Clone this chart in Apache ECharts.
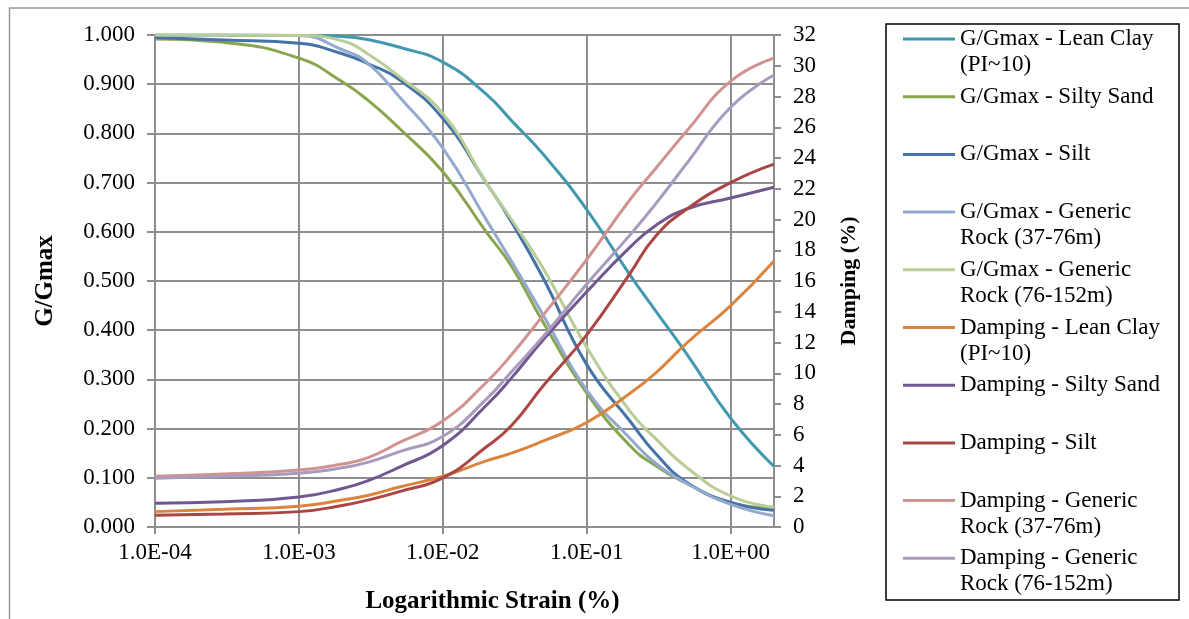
<!DOCTYPE html>
<html>
<head>
<meta charset="utf-8">
<script src="https://cdn.jsdelivr.net/npm/echarts@6/dist/echarts.min.js"></script>
<style>
  html, body { margin: 0; padding: 0; background: #fff; }
  #chart { width: 1189px; height: 619px; }
</style>
</head>
<body>
<div id="chart"></div>
<script>
// Shear strain (%) at which every curve is tabulated
const strain = [1e-4, 3e-4, 1e-3, 2e-3, 3e-3, 5e-3, 1e-2, 2e-2, 3e-2, 5e-2, 0.1, 0.2, 0.3, 0.5, 1, 2];

// Modulus reduction, G/Gmax
const gLeanClay   = [1.000, 1.000, 0.999, 0.997, 0.991, 0.975, 0.945, 0.880, 0.826, 0.757, 0.645, 0.512, 0.440, 0.350, 0.221, 0.123];
const gSiltySand  = [0.992, 0.985, 0.953, 0.905, 0.868, 0.810, 0.722, 0.600, 0.530, 0.415, 0.272, 0.165, 0.125, 0.088, 0.050, 0.037];
const gSilt       = [0.995, 0.990, 0.983, 0.962, 0.942, 0.909, 0.830, 0.700, 0.620, 0.505, 0.330, 0.215, 0.150, 0.090, 0.050, 0.034];
const gRock37     = [1.000, 1.000, 0.999, 0.970, 0.943, 0.874, 0.770, 0.625, 0.540, 0.430, 0.278, 0.180, 0.130, 0.088, 0.046, 0.023];
const gRock76     = [1.000, 1.000, 0.999, 0.988, 0.962, 0.915, 0.840, 0.700, 0.625, 0.525, 0.365, 0.235, 0.180, 0.120, 0.063, 0.040];

// Damping ratio (%)
const dLeanClay   = [1.00, 1.15, 1.35, 1.75, 2.05, 2.60, 3.30, 4.30, 4.80, 5.60, 6.80, 8.70, 10.0, 12.0, 14.4, 17.3];
const dSiltySand  = [1.55, 1.65, 1.95, 2.50, 3.00, 3.90, 5.30, 7.90, 9.70, 12.2, 15.3, 18.2, 19.6, 20.7, 21.4, 22.1];
const dSilt       = [0.76, 0.85, 1.00, 1.40, 1.75, 2.30, 3.20, 5.20, 6.60, 9.20, 12.5, 16.5, 18.9, 20.7, 22.4, 23.6];
const dRock37     = [3.30, 3.45, 3.70, 4.10, 4.50, 5.50, 6.90, 9.40, 11.2, 13.8, 17.4, 21.3, 23.3, 25.8, 29.0, 30.5];
const dRock76     = [3.17, 3.30, 3.50, 3.85, 4.20, 4.90, 5.90, 8.30, 10.1, 12.4, 15.8, 19.0, 21.0, 23.7, 27.3, 29.4];

const seriesNames = [
  'G/Gmax - Lean Clay\n(PI~10)',
  'G/Gmax - Silty Sand',
  'G/Gmax - Silt',
  'G/Gmax - Generic\nRock (37-76m)',
  'G/Gmax - Generic\nRock (76-152m)',
  'Damping - Lean Clay\n(PI~10)',
  'Damping - Silty Sand',
  'Damping - Silt',
  'Damping - Generic\nRock (37-76m)',
  'Damping - Generic\nRock (76-152m)'
];
const seriesValues = [gLeanClay, gSiltySand, gSilt, gRock37, gRock76,
                      dLeanClay, dSiltySand, dSilt, dRock37, dRock76];
const seriesAxis = [0, 0, 0, 0, 0, 1, 1, 1, 1, 1];
const seriesColors = ['#4198AF', '#89A54E', '#4572A7', '#93A9CF', '#B9CD96',
                      '#DB843D', '#71588F', '#AA4643', '#D19392', '#A99BBD'];

const FONT = '"Liberation Serif", "Times New Roman", serif';
const GRID = '#8E8E8E';

function sciLabel(v) {
  const e = Math.round(Math.log10(v));
  if (Math.abs(Math.pow(10, e) - v) / v > 1e-6) return '';
  const sign = e < 0 ? '-' : '+';
  const mag = String(Math.abs(e)).padStart(2, '0');
  return '1.0E' + sign + mag;
}

const series = seriesNames.map((name, i) => ({
  name: name,
  type: 'line',
  yAxisIndex: seriesAxis[i],
  data: strain.map((s, k) => [s, seriesValues[i][k]]),
  smooth: 0.5,
  showSymbol: false,
  symbol: 'none',
  lineStyle: { width: 3, color: seriesColors[i] },
  itemStyle: { color: seriesColors[i] },
  animation: false
}));

// Legend box drawn as graphics: line sample + wrapped label per series
const legendGraphics = [{
  type: 'rect',
  shape: { x: 886, y: 24, width: 293, height: 576 },
  style: { fill: '#fff', stroke: '#000', lineWidth: 1.5 },
  z: 10
}];
seriesNames.forEach((name, i) => {
  const y = 39 + i * 57.7;
  legendGraphics.push({
    type: 'line',
    shape: { x1: 903, y1: y, x2: 955, y2: y },
    style: { stroke: seriesColors[i], lineWidth: 3 },
    z: 11
  });
  legendGraphics.push({
    type: 'text',
    x: 960, y: y - 13,
    style: {
      text: name, fill: '#000', font: '23px ' + FONT,
      lineHeight: 26, verticalAlign: 'top', align: 'left'
    },
    z: 11
  });
});

const titleStyle = { fontFamily: FONT, fontSize: 25, fontWeight: 'bold', color: '#000' };

const chart = echarts.init(document.getElementById('chart'), null, { renderer: 'canvas' });
chart.setOption({
  animation: false,
  backgroundColor: '#fff',
  textStyle: { fontFamily: FONT },
  grid: { left: 155, right: 415, top: 35, bottom: 90, containLabel: false },
  xAxis: {
    type: 'log', logBase: 10, min: 1e-4, max: 2,
    name: 'Logarithmic Strain (%)', nameLocation: 'middle', nameGap: 62,
    nameTextStyle: Object.assign({}, titleStyle, { padding: [0, 0, 0, 56] }),
    axisLine: { show: true, lineStyle: { color: GRID, width: 2 } },
    axisTick: { show: true, length: 7, lineStyle: { color: GRID, width: 2 } },
    axisLabel: { formatter: sciLabel, fontFamily: FONT, fontSize: 23, color: '#000', margin: 14, showMaxLabel: false },
    splitLine: { show: true, lineStyle: { color: GRID, width: 2 } },
    minorTick: { show: false }, minorSplitLine: { show: false }
  },
  yAxis: [{
    type: 'value', min: 0, max: 1, interval: 0.1, position: 'left',
    name: 'G/Gmax', nameLocation: 'middle', nameGap: 97, nameRotate: 90,
    nameTextStyle: titleStyle,
    axisLine: { show: true, lineStyle: { color: GRID, width: 2 } },
    axisTick: { show: true, length: 8, lineStyle: { color: GRID, width: 2 } },
    axisLabel: { formatter: v => v.toFixed(3), fontFamily: FONT, fontSize: 23, color: '#000', margin: 20 },
    splitLine: { show: true, lineStyle: { color: GRID, width: 2 } }
  }, {
    type: 'value', min: 0, max: 32, interval: 2, position: 'right',
    name: 'Damping (%)', nameLocation: 'middle', nameGap: 64, nameRotate: 90,
    nameTextStyle: Object.assign({}, titleStyle, { fontSize: 22 }),
    axisLine: { show: true, lineStyle: { color: GRID, width: 2 } },
    axisTick: { show: true, length: 7, lineStyle: { color: GRID, width: 2 } },
    axisLabel: { fontFamily: FONT, fontSize: 23, color: '#000', margin: 19 },
    splitLine: { show: false }
  }],
  series: series,
  graphic: [{
    type: 'rect',
    shape: { x: 9.5, y: 8, width: 1300, height: 700 },
    style: { fill: 'none', stroke: '#999', lineWidth: 1.5 },
    z: 0, silent: true
  }].concat(legendGraphics)
});
</script>
</body>
</html>
